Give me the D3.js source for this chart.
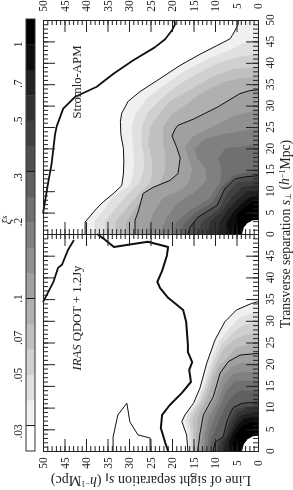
<!DOCTYPE html>
<html><head><meta charset="utf-8">
<script src="https://cdn.jsdelivr.net/npm/d3@7"></script>
<style>html,body{margin:0;padding:0;background:#fff}svg{display:block}text{font-family:"Liberation Serif",serif;fill:#222}</style>
</head><body><svg id="c" width="293" height="490"><defs><filter id="soft" x="0" y="0" width="100%" height="100%"><feGaussianBlur stdDeviation="0.4"/></filter></defs></svg>
<script>
// contour levels: log10(xi), 0.1 dex bands
const levels=[-1.5,-1.4,-1.3,-1.2,-1.1,-1.0,-0.9,-0.8,-0.7,-0.6,-0.5,-0.4,-0.3,-0.2,-0.1,0];
const darkLevels=[-1.5,-1.0,-0.5];
const parTicks=[50,45,40,35,30,25,20,15,10,5,0];
const perpLabelsTop=[0,5,10,15,20,25,30,35,40,45,50];
const perpLabelsBottom=[0,5,10,15,20,25,30,35,40,45];
const barTickValues=[1,.7,.5,.3,.2,.1,.07,.05,.03];
const barTickLabels=["1",".7",".5",".3",".2",".1",".07",".05",".03"];
// every contour: pairs of [s_par, s_perp]
const stromloContours=[
[[40.2,0],[40.2,2.8],[37.5,6],[36,7.5],[33.7,9.4],[31.7,11.3],[31.3,14],[31.2,17],[31.3,20],[31.9,23.3],[32,26.3],[31.7,28.2],[30.2,31],[27.4,33.3],[22.8,36.3],[18.1,39.4],[13.5,42],[9.6,44],[6.5,45.6],[5.8,46.7],[4.6,49],[4.6,50]],
[[38,0],[38,3],[35.5,6],[33.5,9],[29.8,11.3],[29,14],[28.8,17],[29,20],[29.3,25],[28.5,28],[26,31.5],[21.5,35],[17,38],[12,40.7],[6.5,43],[3.5,44.5],[0,45.5]],
[[35.5,0],[35.5,3],[33,6],[30.5,9],[27.5,12],[26.5,15],[26.5,18],[27,21],[27,25],[25.5,28.5],[23,31],[19,34.5],[14,37.5],[9,40],[4,41.5],[0,42]],
[[33,0],[33,3],[30.5,6],[27.5,9.5],[25,12],[24.5,15],[24.7,18],[25.5,21],[25,25],[23,28],[20.5,31],[16,33.5],[11,36.5],[6,38.5],[0,39]],
[[31,0],[30.5,3],[28.5,6],[26,9.5],[23,11.5],[21.5,15],[21.5,18],[22,21],[22,25],[20,28],[17,30],[13,33],[8,35.5],[3,36.5],[0,36.5]],
[[28.6,0],[28.6,3.2],[27.9,5.1],[26.7,9.5],[24.4,10.9],[20.5,12.5],[18.6,14.1],[18.1,17.8],[19,20.5],[20,22.9],[19.3,24.5],[18.6,25.4],[15.1,26.8],[9.5,29.6],[4.2,32.8],[1.9,33.5],[0,33.7]],
[[25.8,0],[24.4,4.8],[22,8.5],[17.4,10.5],[15.8,12.5],[15.3,15.2],[16.3,18.2],[17,20.5],[15,22.9],[11.2,24.7],[5.8,27.5],[0,29]],
[[22.8,0],[21.2,3.9],[18.8,7.2],[15,9.5],[11.9,12.5],[12.3,15.5],[14.2,17.8],[14.7,19.9],[12.3,22.2],[8.1,23.3],[0,24.7]],
[[19.8,0],[18.8,2.8],[15.8,5.5],[11.2,8.3],[8.8,12],[8.4,15.2],[9.3,17.5],[7.7,19.9],[3.5,20.5],[0,21]],
[[17.7,0],[17.4,2],[14.7,4.8],[10.5,7.4],[8.4,10.9],[5.8,13.6],[2.5,14.3],[0,14.8]],
[[16.3,0],[15.8,1.6],[14,3.9],[9.5,6.7],[7.7,10.6],[5.3,12.9],[2.6,13.4],[0,13.6]],
[[14.2,0],[13,2.8],[8.8,6],[7,9.7],[4.7,12],[0,12.5]],
[[11.6,0],[11.2,2.8],[8.1,5.5],[6,8.5],[3.7,10.9],[0,11.5]],
[[9.3,0],[8.8,2.8],[7,5.5],[4.9,7.9],[2.6,9.7],[0,10]],
[[7.2,0],[7.2,2.8],[5.8,5],[3.7,7.2],[1.9,8.5],[0,9]],
[[5.6,0],[5.3,2.5],[4.7,4.8],[3,6.2],[1.2,7.4],[0,7.7]]
];
const iras12Contours=[
[[16.3,0],[16.6,3.7],[17.7,6.8],[17,8.3],[15,11],[13.5,14.5],[11.9,20.3],[10,25.6],[7.7,29.8],[5,32.5],[1.5,34],[0,34.4]],
[[15.8,0],[16,3.7],[16.9,6.9],[16.4,8.3],[14.2,11.3],[12.7,15],[11.2,20],[9.2,25],[7,28],[4.5,30.5],[1.2,31.8],[0,32]],
[[15.3,0],[15.5,3.8],[16,7],[15.6,8.5],[13.4,11.7],[12,15.5],[10.5,20],[8.5,24.5],[6.3,26.8],[3.8,28.8],[1,29.5],[0,29.6]],
[[14.9,0],[15,3.9],[15.2,7],[14.7,8.5],[12.7,12],[11.3,16],[9.8,20],[8,23.5],[5.7,25.5],[3.3,26.6],[.9,27.2],[0,27.2]],
[[14.4,0],[14.3,4],[14,7.5],[13.5,9],[11.7,12.5],[10.4,16.5],[9.2,19.5],[7.5,21],[5,23.8],[3,24.3],[.7,24.9],[0,24.9]],
[[14,0],[13.5,4],[12.7,8.3],[10.4,12.5],[8.8,18],[6.9,20.6],[4.2,22.1],[0,22.5]],
[[13.3,0],[12.9,4],[12.1,8],[9.9,12],[8.3,17],[6.4,19.2],[3.9,20.3],[0,20.3]],
[[12.6,0],[12.2,4],[11.4,7.5],[9.3,11.3],[7.7,15.5],[5.9,17.7],[3.6,18.2],[0,18.2]],
[[11.9,0],[11.5,3.5],[10.3,7.3],[8.8,10.5],[7.2,14],[5.5,16],[3.4,16.2],[0,16]],
[[11.2,0],[10.8,2.8],[9.2,6.5],[8,9.3],[6.5,12],[4.7,13.7],[3.2,13.9],[0,13.6]],
[[10.4,0],[10,2],[8.1,3.3],[7.2,7],[5.8,10],[3.7,11],[0,11.3]],
[[9.3,0],[9.2,2],[7.8,3.5],[6.6,7],[5.2,9.5],[3.2,10.2],[0,10.4]],
[[8.5,0],[8.4,2],[7.2,3.8],[6,6.6],[4.6,8.8],[2.8,9.5],[0,9.6]],
[[7.7,0],[7.6,2],[6.6,3.8],[5.5,6],[4,8],[2.4,8.6],[0,8.8]],
[[6.8,0],[6.7,2],[5.9,4],[4.9,5.7],[3.4,7.3],[2,7.7],[0,7.9]],
[[5.8,0],[5.7,2],[5,4],[4.1,5.3],[2.9,6.2],[1.5,6.7],[0,6.9]]
];
const stromloHole=[[3.7,0],[3.3,1.5],[2.5,2.5],[1.2,3.2],[0,3.3]];
const irasHole=[[3.7,0],[3.3,1.6],[2.4,2.7],[1.2,3.4],[0,3.5]];
const stromloZero=[[19.5,50],[19.3,49],[20,47.6],[21.6,45.5],[24,43.6],[29,40.6],[33.7,37.4],[37.5,34.4],[42.6,32],[45.3,29.3],[46.8,25.2],[47.2,23.3],[48,16.4],[48.8,12],[50,4.8]];
const irasZeroA=[[50,34.3],[47.6,38.9],[46.5,42.2],[45.6,42.9],[44.2,46.3],[42.8,48.6]];
const irasZeroB=[[37.4,50],[36,49],[33.5,47],[30.2,47.5],[25.6,48.2],[20.9,47],[21.2,45],[22.3,41.5],[23.4,39],[22.8,37.6],[20.9,35.3],[17.4,32.5],[16.7,29.7],[16.3,24.4],[16.3,22.8],[15.3,20.5],[16,18.7],[15.6,15.9],[17.7,13.4],[20.5,10.6],[22.3,8.3],[22.6,5.3],[21.6,2],[20.9,0]];
const irasHump=[[33.7,0],[33.7,3.2],[32.6,8.3],[30.5,11],[29.8,6.7],[27.9,3.7],[25.1,3],[25.1,0]];

const svg=d3.select("#c").append("g").attr("filter","url(#soft)");
svg.append("rect").attr("width",293).attr("height",490).attr("fill","#fff");
const gray=d3.scaleLinear().domain([-1.5,0]).range(["#f0f0f0","#000000"]);
const xPar=d3.scaleLinear().domain([50,0]).range([43,258]);
const yTop=d3.scaleLinear().domain([0,50]).range([234,20]);
const yBot=d3.scaleLinear().domain([0,50]).range([451,234]);
const minor=d3.range(0,51,1), major=d3.range(0,51,5);

function axisG(axisFn,scale,transform){
  [[minor,5],[major,12]].forEach(([vals,size])=>{
    const g=svg.append("g").attr("transform",transform)
      .call(axisFn(scale).tickValues(vals).tickSize(size).tickFormat(""));
    g.selectAll(".domain").attr("stroke","#222").attr("stroke-width",1);
    g.selectAll(".tick line").attr("stroke","#222").attr("stroke-width",1);
  });
}
function panel(y,contours,hole){
  const line=d3.line().x(d=>xPar(d[0])).y(d=>y(d[1]));
  const g=svg.append("g");
  contours.forEach((pts,i)=>{
    g.append("path").attr("d",line(pts.concat([[0,pts[pts.length-1][1]],[0,0]]))+"Z")
      .attr("fill",gray(levels[i])).attr("stroke",gray(levels[i])).attr("stroke-width",.3);
  });
  g.append("path").attr("d",line(hole.concat([[0,0]]))+"Z").attr("fill","#fff");
  contours.forEach((pts,i)=>{
    if(darkLevels.includes(levels[i]))
      g.append("path").attr("d",line(pts)).attr("fill","none").attr("stroke","#111").attr("stroke-width",1);
  });
  return line;
}
const lineTop=panel(yTop,stromloContours,stromloHole);
const lineBot=panel(yBot,iras12Contours,irasHole);
[[lineTop,stromloZero,1.8],[lineBot,irasZeroA,1.8],[lineBot,irasZeroB,2],[lineBot,irasHump,1]].forEach(([l,pts,w])=>{
  svg.append("path").attr("d",l(pts)).attr("fill","none").attr("stroke","#111").attr("stroke-width",w).attr("stroke-linejoin","round");
});
axisG(d3.axisBottom,xPar,"translate(0,20)");
axisG(d3.axisTop,xPar,"translate(0,234)");
axisG(d3.axisBottom,xPar,"translate(0,234)");
axisG(d3.axisTop,xPar,"translate(0,451)");
[yTop,yBot].forEach(y=>{
  axisG(d3.axisRight,y,"translate(43,0)");
  axisG(d3.axisLeft,y,"translate(258,0)");
});
function vtext(x,y,s,size,anchor){
  return svg.append("text").attr("transform",`translate(${x},${y}) rotate(-90)`)
    .attr("text-anchor",anchor||"middle").attr("dy",".35em").attr("font-size",size).text(s);
}
parTicks.forEach(v=>{vtext(xPar(v),6,v,11.5);vtext(xPar(v),463,v,11.5);});
perpLabelsTop.forEach(v=>vtext(270,yTop(v),v,11.5));
perpLabelsBottom.forEach(v=>vtext(270,yBot(v),v,11.5));

// colour bar
const barScale=d3.scaleLog().domain([Math.pow(10,-1.6),Math.pow(10,.1)]).range([451,19]);
levels.forEach((L,i)=>{
  const hi=i<levels.length-1?levels[i+1]:.1;
  svg.append("rect").attr("x",26).attr("width",9)
    .attr("y",barScale(Math.pow(10,hi))).attr("height",barScale(Math.pow(10,L))-barScale(Math.pow(10,hi))+.3)
    .attr("fill",gray(L));
});
darkLevels.forEach(L=>svg.append("line").attr("x1",26).attr("x2",35)
  .attr("y1",barScale(Math.pow(10,L))).attr("y2",barScale(Math.pow(10,L))).attr("stroke","#111").attr("stroke-width",1));
svg.append("rect").attr("x",26).attr("y",19).attr("width",9).attr("height",432).attr("fill","none").attr("stroke","#333").attr("stroke-width",1);
barTickValues.forEach((v,i)=>vtext(18,barScale(v),barTickLabels[i],11.5));
const xi=vtext(6,220,"",13);
xi.append("tspan").attr("font-style","italic").text("ξ");
xi.append("tspan").attr("font-size",9).attr("dy","-.45em").attr("font-style","italic").text("s");

// annotations
function fit(t,len){
  const n=t.node(), s=+t.attr("font-size");
  t.attr("font-size",s*len/n.getComputedTextLength());
}
fit(vtext(77,82,"Stromlo-APM",12.5),73);
const ir=vtext(77,318,"",12.5);
ir.append("tspan").attr("font-style","italic").text("IRAS");
ir.append("tspan").text(" QDOT + 1.2Jy");
fit(ir,105);
function axisLabel(t,sub){
  t.append("tspan").text(sub[0]+" ");
  t.append("tspan").attr("font-style","italic").text("s");
  t.append("tspan").attr("font-size",7.5).attr("dy",".2em").text(sub[1]);
  t.append("tspan").attr("dy","-.2em").text("  (");
  t.append("tspan").attr("font-style","italic").text("h");
  t.append("tspan").attr("font-size",8).attr("dy","-.4em").text("−1");
  t.append("tspan").attr("dy",".35em").text("Mpc)");
}
const tl=vtext(285,234,"",12.5); axisLabel(tl,["Transverse separation","⊥"]); fit(tl,190);
const lab=svg.append("text").attr("transform","translate(151,481) rotate(180)").attr("text-anchor","middle").attr("dy",".35em").attr("font-size",12.5);
axisLabel(lab,["Line of sight separation","∥"]); fit(lab,202);
</script></body></html>
